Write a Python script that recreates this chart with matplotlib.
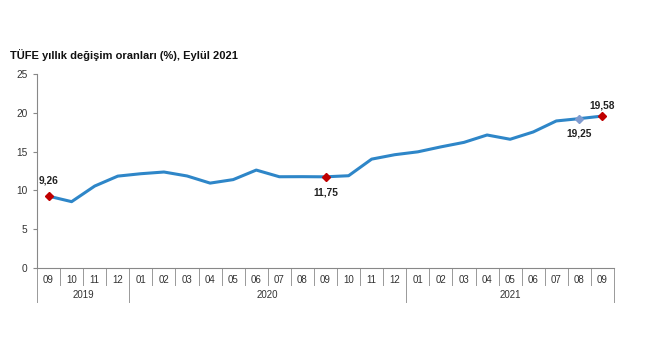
import matplotlib
matplotlib.use("Agg")
import matplotlib.pyplot as plt
from matplotlib.transforms import blended_transform_factory

plt.rcParams['font.family'] = ['Liberation Sans', 'DejaVu Sans']

months = ['09', '10', '11', '12',
          '01', '02', '03', '04', '05', '06', '07', '08', '09', '10', '11', '12',
          '01', '02', '03', '04', '05', '06', '07', '08', '09']
years = ['2019', '2020', '2021']
year_counts = [4, 12, 9]
tufe = [9.26, 8.55, 10.56, 11.84,
        12.15, 12.37, 11.86, 10.94, 11.39, 12.62, 11.76, 11.77, 11.75, 11.89, 14.03, 14.60,
        14.97, 15.61, 16.19, 17.14, 16.59, 17.53, 18.95, 19.25, 19.58]
# (index, label, offset in points, marker colour)
highlights = [(0, '9,26', 11.5, '#C00000'),
              (12, '11,75', -11.5, '#C00000'),
              (23, '19,25', -11, '#7F9BCF'),
              (24, '19,58', 7.5, '#C00000')]

fig = plt.figure(figsize=(6.5, 3.6), dpi=100)
ax = fig.add_axes([37 / 650, 1 - 268 / 360, 577 / 650, 194 / 360])

x = list(range(len(tufe)))
ax.plot(x, tufe, color='#2E86C8', lw=2.2, zorder=2)

for i, lab, dy, col in highlights:
    ax.plot(i, tufe[i], marker='D', ms=4.5, color=col, zorder=3)
    ax.annotate(lab, (i, tufe[i]), xytext=(0, dy), textcoords='offset points',
                ha='center', va='center', fontsize=7.3, fontweight='bold', color='#222222')

ax.set_xlim(-0.5, len(tufe) - 0.5)
ax.set_ylim(0, 25)
ax.set_yticks([0, 5, 10, 15, 20, 25])
ax.tick_params(axis='y', labelsize=7.3, length=3, color='#888888', labelcolor='#333333', pad=4)
ax.set_xticks([])

for s in ['top', 'right']:
    ax.spines[s].set_visible(False)
ax.spines['left'].set_color('#888888')
ax.spines['bottom'].set_color('#888888')
ax.spines['left'].set_linewidth(0.8)
ax.spines['bottom'].set_linewidth(0.8)

tr = blended_transform_factory(ax.transData, ax.transAxes)
short = -17 / 194
long_ = -34 / 194
for i, m in enumerate(months):
    ax.text(i, -12 / 194, m, transform=tr, ha='center', va='center',
            fontsize=7, color='#333333')

bounds = [-0.5]
for c in year_counts:
    bounds.append(bounds[-1] + c)
for i in range(len(months) + 1):
    b = i - 0.5
    ylow = long_ if b in bounds else short
    ax.plot([b, b], [0, ylow], transform=tr, color='#999999', lw=0.7, clip_on=False)

for k, y in enumerate(years):
    mid = (bounds[k] + bounds[k + 1]) / 2
    ax.text(mid, -27 / 194, y, transform=tr, ha='center', va='center',
            fontsize=7, color='#333333')

fig.text(10 / 650, 1 - 55 / 360, 'TÜFE yıllık değişim oranları (%), Eylül 2021',
         fontsize=8, fontweight='bold', color='#111111', va='center')

fig.savefig('out.png', dpi=100)
